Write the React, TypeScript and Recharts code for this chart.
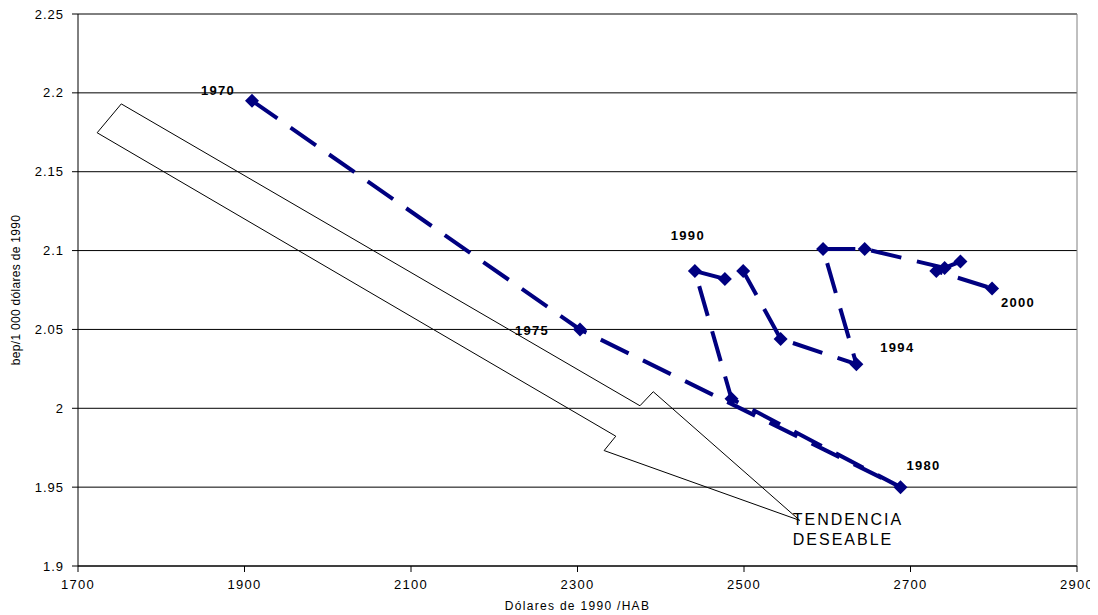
import React from 'react';
import {
  ScatterChart,
  Scatter,
  XAxis,
  YAxis,
  CartesianGrid,
  ReferenceLine,
  ReferenceDot,
} from 'recharts';

// ---- Data ----
const years = [1970, 1975, 1980, 1985, 1990, 1991, 1992, 1993, 1994, 1995, 1996, 1997, 1998, 1999, 2000];
const gdpPerCapita = [1909, 2303, 2688, 2485, 2441, 2477, 2499, 2544, 2635, 2595, 2645, 2741, 2760, 2731, 2798];
const energyIntensity = [2.195, 2.05, 1.95, 2.006, 2.087, 2.082, 2.087, 2.044, 2.028, 2.101, 2.101, 2.089, 2.093, 2.087, 2.076];

const labelledYears = [1970, 1975, 1980, 1990, 1994, 2000];

// Outline of the "tendencia deseable" arrow, in data units
const arrowX = [1752, 2375, 2391, 2567, 2332, 2346, 1723, 1752];
const arrowY = [2.193, 2.0016, 2.0105, 1.9289, 1.9732, 1.9823, 2.1747, 2.193];
const arrowTipIndex = 3;

const xTicks = [1700, 1900, 2100, 2300, 2500, 2700, 2900];
const yTicks = [1.9, 1.95, 2.0, 2.05, 2.1, 2.15, 2.2, 2.25];

const xTitle = 'Dólares de 1990 /HAB';
const yTitle = 'bep/1 000 dólares de 1990';
const arrowText = ['TENDENCIA', 'DESEABLE'];

// ---- Built tables ----
const series = years.map((year, i) => ({ year, x: gdpPerCapita[i], y: energyIntensity[i] }));
const arrow = arrowX.map((x, i) => ({ x, y: arrowY[i] }));

// label offsets (style) relative to marker centre
const LABEL_OFFSETS: Record<number, [number, number]> = {
  1970: [-34, -10],
  1975: [-48, 1],
  1980: [23, -22],
  1990: [-7, -36],
  1994: [41, -17],
  2000: [26, 14],
};

const NAVY = '#000080';
const FONT = '"Liberation Sans", Arial, sans-serif';

const DiamondShape = (props: any) => {
  const { cx, cy, payload } = props;
  if (cx == null || cy == null) return <g />;
  const r = 7;
  const year = payload?.year;
  const off = LABEL_OFFSETS[year];
  const showLabel = labelledYears.includes(year) && off;
  return (
    <g>
      <path d={`M${cx},${cy - r}L${cx + r},${cy}L${cx},${cy + r}L${cx - r},${cy}Z`} fill={NAVY} stroke="none" />
      {showLabel ? (
        <text
          x={cx + off[0]}
          y={cy + off[1]}
          textAnchor="middle"
          dominantBaseline="central"
          fontFamily={FONT}
          fontSize={13}
          fontWeight="bold"
          letterSpacing={1.3}
          fill="#000"
        >
          {year}
        </text>
      ) : null}
    </g>
  );
};

const NoShape = () => <g />;

const ArrowTextShape = (props: any) => {
  const { cx, cy } = props;
  if (cx == null || cy == null) return <g />;
  return (
    <g>
      <text x={cx - 7} y={cy + 5} fontFamily={FONT} fontSize={16} letterSpacing={2} fill="#000">
        {arrowText[0]}
      </text>
      <text x={cx - 7} y={cy + 25} fontFamily={FONT} fontSize={16} letterSpacing={2} fill="#000">
        {arrowText[1]}
      </text>
    </g>
  );
};

const YTitle = (props: any) => {
  const vb = props.viewBox || {};
  const cy = (vb.y ?? 0) + (vb.height ?? 0) / 2;
  const x = 8;
  return (
    <text
      x={x}
      y={cy}
      transform={`rotate(-90 ${x} ${cy})`}
      textAnchor="middle"
      dominantBaseline="central"
      fontFamily={FONT}
      fontSize={12}
      letterSpacing={0.3}
      fill="#000"
    >
      {yTitle}
    </text>
  );
};

const XTitle = (props: any) => {
  const vb = props.viewBox || {};
  const cx = (vb.x ?? 0) + (vb.width ?? 0) / 2;
  return (
    <text
      x={cx}
      y={602}
      textAnchor="middle"
      fontFamily={FONT}
      fontSize={12}
      letterSpacing={1.3}
      fill="#000"
    >
      {xTitle}
    </text>
  );
};

const fmtY = (v: number) => String(Number(v.toFixed(2)));

export default function App() {
  return (
    <div style={{ width: 1090, height: 607, background: '#fff' }}>
      <ScatterChart width={1090} height={607} margin={{ top: 6, right: 21, bottom: 0, left: 0 }}>
        <CartesianGrid horizontal vertical={false} stroke="#000" strokeWidth={1} />
        <XAxis
          type="number"
          dataKey="x"
          domain={[1700, 2900]}
          ticks={xTicks}
          interval={0}
          height={49}
          axisLine={{ stroke: '#000' }}
          tickLine={{ stroke: '#000' }}
          tickSize={6}
          tickMargin={8}
          tick={{ fontFamily: FONT, fontSize: 13, fill: '#000', letterSpacing: 1.3 }}
          allowDataOverflow
          label={<XTitle />}
        />
        <YAxis
          type="number"
          dataKey="y"
          domain={[1.9, 2.25]}
          ticks={yTicks}
          interval={0}
          width={70}
          axisLine={{ stroke: '#000' }}
          tickLine={{ stroke: '#000' }}
          tickSize={6}
          tickMargin={8}
          tickFormatter={fmtY}
          tick={{ fontFamily: FONT, fontSize: 13, fill: '#000', letterSpacing: 1 }}
          allowDataOverflow
          label={<YTitle />}
        />
        <ReferenceLine y={2.25} stroke="#808080" strokeWidth={1} />
        <ReferenceLine x={2900} stroke="#808080" strokeWidth={1} />
        <Scatter
          data={arrow}
          line={{ stroke: '#000', strokeWidth: 1, fill: 'none' }}
          lineType="joint"
          shape={NoShape}
          isAnimationActive={false}
        />
        <ReferenceDot
          x={arrowX[arrowTipIndex]}
          y={arrowY[arrowTipIndex]}
          r={0}
          shape={ArrowTextShape}
          ifOverflow="visible"
        />
        <Scatter
          data={series}
          line={{ stroke: NAVY, strokeWidth: 4, strokeDasharray: '31 16', fill: 'none' }}
          lineType="joint"
          shape={DiamondShape}
          isAnimationActive={false}
        />
      </ScatterChart>
    </div>
  );
}
